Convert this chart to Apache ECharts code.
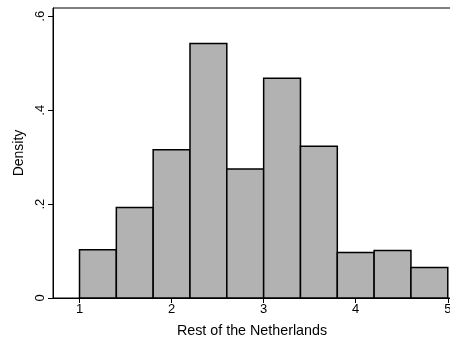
<!DOCTYPE html>
<html>
<head>
<meta charset="utf-8">
<script src="https://cdn.jsdelivr.net/npm/echarts@6/dist/echarts.min.js"></script>
<style>
  html, body { margin: 0; padding: 0; background: #fff; }
  #chart { width: 450px; height: 341px; }
</style>
</head>
<body>
<div id="chart"></div>
<script>
// Histogram bins (width 0.4) and their densities
const binStarts = [1.0, 1.4, 1.8, 2.2, 2.6, 3.0, 3.4, 3.8, 4.2, 4.6];
const binEnds   = [1.4, 1.8, 2.2, 2.6, 3.0, 3.4, 3.8, 4.2, 4.6, 5.0];
const densities = [0.103, 0.193, 0.316, 0.542, 0.275, 0.468, 0.323, 0.097, 0.101, 0.065];

const xTicks = [1, 2, 3, 4, 5];
const yTicks = [0, 0.2, 0.4, 0.6];

const data = binStarts.map((s, i) => [s, binEnds[i], densities[i]]);

const font = 'Liberation Sans, Arial, Helvetica, sans-serif';
const chart = echarts.init(document.getElementById('chart'), null, { renderer: 'canvas' });

chart.setOption({
  backgroundColor: '#fff',
  animation: false,
  grid: {
    left: 53, top: 8, right: -1, bottom: 43,
    outerBoundsMode: 'none',
    containLabel: false,
    show: true, borderColor: '#000', borderWidth: 1, backgroundColor: 'transparent'
  },
  xAxis: {
    type: 'value',
    min: 0.712, max: 5.035,
    name: 'Rest of the Netherlands',
    nameLocation: 'middle',
    nameGap: 26,
    nameTextStyle: { fontFamily: font, fontSize: 14.3, color: '#000' },
    splitLine: { show: false },
    axisLine: { show: true, onZero: false, lineStyle: { color: '#000', width: 1 } },
    axisTick: { show: true, length: 5, customValues: xTicks, lineStyle: { color: '#000' } },
    axisLabel: {
      customValues: xTicks, margin: 5,
      fontFamily: font, fontSize: 13, color: '#000'
    }
  },
  yAxis: {
    type: 'value',
    min: 0, max: 0.6177,
    name: 'Density',
    nameLocation: 'middle',
    nameGap: 27,
    nameTextStyle: { fontFamily: font, fontSize: 14, color: '#000' },
    splitLine: { show: false },
    axisLine: { show: true, lineStyle: { color: '#000', width: 1 } },
    axisTick: { show: true, length: 5, customValues: yTicks, lineStyle: { color: '#000' } },
    axisLabel: {
      customValues: yTicks, rotate: 90, margin: 6,
      fontFamily: font, fontSize: 13, color: '#000',
      formatter: v => (v === 0 ? '0' : String(v).replace(/^0\./, '.'))
    }
  },
  series: [{
    type: 'custom',
    data: data,
    encode: { x: [0, 1], y: 2 },
    renderItem: (params, api) => {
      const topLeft = api.coord([api.value(0), api.value(2)]);
      const bottomRight = api.coord([api.value(1), 0]);
      return {
        type: 'rect',
        shape: {
          x: topLeft[0], y: topLeft[1],
          width: bottomRight[0] - topLeft[0],
          height: bottomRight[1] - topLeft[1]
        },
        style: { fill: '#b2b2b2', stroke: '#000', lineWidth: 1.5 }
      };
    }
  }]
});
</script>
</body>
</html>
